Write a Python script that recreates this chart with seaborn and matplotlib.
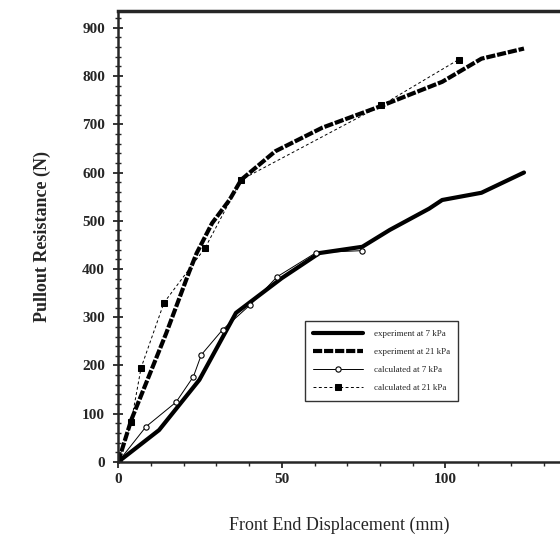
import matplotlib
matplotlib.use("Agg")
import matplotlib.pyplot as plt
import numpy as np
import pandas as pd
import seaborn as sns
from matplotlib.ticker import MultipleLocator

# experiment at 7 kPa
exp7_x = [0, 12.5, 24.8, 36, 50, 61.5, 74.6, 83, 95, 99, 111, 124]
exp7_y = [0, 66, 170, 309, 381, 433, 446, 481, 525, 543, 558, 600]

# experiment at 21 kPa
exp21_x = [0, 4, 14.7, 21.7, 24, 28.7, 34, 37.6, 48, 62.4, 80, 99, 111, 124]
exp21_y = [0, 87, 267, 394, 433, 495, 543, 585, 644, 693, 737, 788, 836, 857]

# calculated at 7 kPa
calc7_x = [0, 8.5, 17.7, 23, 25.4, 31.9, 40.4, 48.6, 60.5, 74.6]
calc7_y = [0, 73, 124, 177, 222, 274, 326, 384, 434, 438]

# calculated at 21 kPa
calc21_x = [0, 4, 7, 14, 26.6, 37.6, 80.4, 104]
calc21_y = [0, 83, 195, 330, 444, 585, 739, 834]

sns.set_style("ticks")
plt.rcParams["font.family"] = ["Liberation Serif", "DejaVu Serif"]

fig = plt.figure(figsize=(5.6, 5.46), dpi=100)
ax = fig.add_axes([0.211, 0.154, 0.789, 0.826])

sns.lineplot(x=exp7_x, y=exp7_y, ax=ax, color="black", linewidth=3.0,
             label="experiment at 7 kPa", sort=False)
sns.lineplot(x=exp21_x, y=exp21_y, ax=ax, color="black", linewidth=3.0,
             label="experiment at 21 kPa", sort=False)
ax.lines[-1].set_dashes([2.2, 0.45])
sns.lineplot(x=calc7_x, y=calc7_y, ax=ax, color="black", linewidth=0.7,
             marker="o", markersize=3.8, markerfacecolor="white",
             markeredgecolor="black", markeredgewidth=0.8,
             label="calculated at 7 kPa", sort=False)
sns.lineplot(x=calc21_x, y=calc21_y, ax=ax, color="black", linewidth=0.7,
             marker="s", markersize=4.2, markerfacecolor="black",
             markeredgecolor="black", label="calculated at 21 kPa", sort=False)
ax.lines[-1].set_dashes([3, 2.5])

ax.set_xlim(0, 135)
ax.set_ylim(0, 935)
ax.xaxis.set_major_locator(MultipleLocator(50))
ax.xaxis.set_minor_locator(MultipleLocator(10))
ax.yaxis.set_major_locator(MultipleLocator(100))
ax.yaxis.set_minor_locator(MultipleLocator(20))

ax.spines["right"].set_visible(False)
ax.spines["top"].set_linewidth(2.5)
ax.spines["left"].set_linewidth(1.8)
ax.spines["bottom"].set_linewidth(1.8)

ax.tick_params(axis="y", which="major", direction="inout", length=7, width=1.3,
               labelsize=11, pad=6)
ax.tick_params(axis="y", which="minor", direction="inout", length=4, width=1.0)
ax.tick_params(axis="x", which="major", direction="out", length=4, width=1.3,
               labelsize=11, pad=4)
ax.tick_params(axis="x", which="minor", direction="out", length=3, width=1.0)
for lab in ax.get_xticklabels() + ax.get_yticklabels():
    lab.set_fontweight("bold")

ax.set_xlabel("Front End Displacement (mm)", fontsize=13, labelpad=22)
ax.set_ylabel("Pullout Resistance (N)", fontsize=13, fontweight="bold", labelpad=22)

leg = ax.legend(loc="lower left", bbox_to_anchor=(0.413, 0.126), fontsize=6.5,
                frameon=True, fancybox=False, handlelength=5.5, borderpad=0.9,
                labelspacing=1.1, handletextpad=1.2)
leg.get_frame().set_edgecolor("black")
leg.get_frame().set_linewidth(1.0)

fig.savefig("out.png", dpi=100)
